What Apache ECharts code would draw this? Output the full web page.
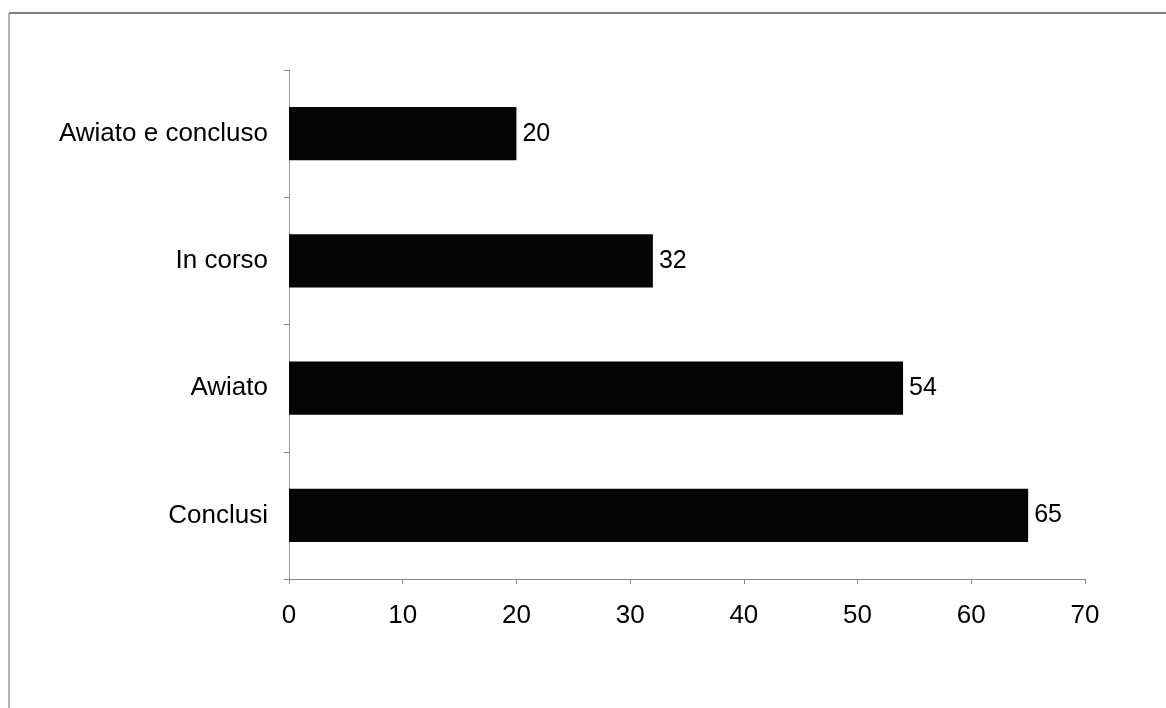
<!DOCTYPE html>
<html>
<head>
<meta charset="utf-8">
<script src="https://cdn.jsdelivr.net/npm/echarts@6/dist/echarts.min.js"></script>
<style>
  html, body { margin: 0; padding: 0; background: #fff; }
  #chart { width: 1166px; height: 708px; }
</style>
</head>
<body>
<div id="chart"></div>
<script>
// Project status counts (categories listed bottom to top)
const categories = ['Conclusi', 'Awiato', 'In corso', 'Awiato e concluso'];
const counts = [65, 54, 32, 20];
const xTicks = { min: 0, max: 70, interval: 10 };

const chart = echarts.init(document.getElementById('chart'));
const font = 'Liberation Sans, Arial, sans-serif';

chart.setOption({
  animation: false,
  backgroundColor: '#fff',
  grid: { left: 289, right: 81, top: 70, bottom: 129 },
  xAxis: {
    type: 'value',
    min: xTicks.min,
    max: xTicks.max,
    interval: xTicks.interval,
    splitLine: { show: false },
    axisLine: { show: true, lineStyle: { color: '#8a8a8a', width: 1 } },
    axisTick: { show: true, length: 5, lineStyle: { color: '#8a8a8a' } },
    axisLabel: { color: '#000', fontSize: 26, fontFamily: font, margin: 24 }
  },
  yAxis: {
    type: 'category',
    data: categories,
    axisLine: { show: true, lineStyle: { color: '#9a9a9a', width: 1 } },
    axisTick: { show: true, length: 5, lineStyle: { color: '#8a8a8a' } },
    axisLabel: { color: '#000', fontSize: 26, fontFamily: font, margin: 21 }
  },
  series: [{
    type: 'bar',
    data: counts,
    barWidth: '42%',
    itemStyle: { color: '#050505' },
    label: {
      show: true,
      position: 'right',
      distance: 6,
      color: '#000',
      fontSize: 25,
      fontFamily: font
    }
  }],
  graphic: [
    { type: 'line', shape: { x1: 9, y1: 13, x2: 1166, y2: 13 }, style: { stroke: '#555', lineWidth: 1.5 } },
    { type: 'line', shape: { x1: 9, y1: 13, x2: 9, y2: 708 }, style: { stroke: '#999', lineWidth: 1.5 } }
  ]
});
</script>
</body>
</html>
